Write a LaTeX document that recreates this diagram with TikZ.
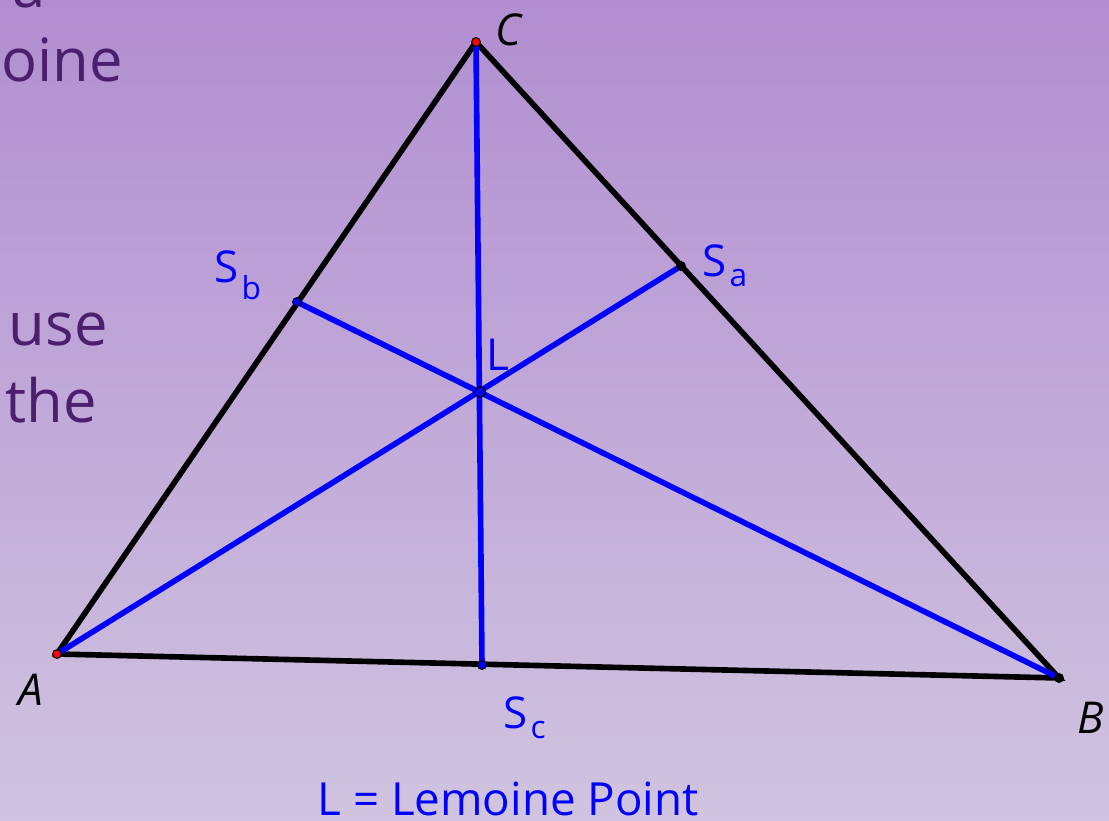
\documentclass[tikz,border=0pt]{standalone}
\usepackage{fontspec}
\setmainfont{Open Sans}
\usetikzlibrary{positioning}

\definecolor{bgtop}{RGB}{177,142,208}
\definecolor{bgbot}{RGB}{208,196,224}
\definecolor{slidetxt}{RGB}{75,30,110}

\tikzset{
    side/.style={line width=3.2pt, black, line cap=round},
    symm/.style={line width=3.2pt, blue, line cap=round},
    lbl/.style={blue, font=\fontsize{25}{25}\selectfont, inner sep=0pt},
    vlbl/.style={black, font=\fontsize{25}{25}\selectfont\itshape, inner sep=0pt},
    sub/.style={blue, font=\fontsize{18}{18}\selectfont, inner sep=0pt},
    slide/.style={slidetxt, font=\fontsize{34}{34}\selectfont, inner sep=0pt, anchor=base east},
    pt/.style={circle, inner sep=0pt, minimum size=5pt, line width=0.6pt, draw=black}
}

\begin{document}
\begin{tikzpicture}[x=0.02cm, y=-0.02cm]
            \useasboundingbox (0,0) rectangle (1109,821);
            \clip (0,0) rectangle (1109,821);
            \shade[top color=bgtop, bottom color=bgbot] (0,0) rectangle (1109,821);

            % left over text of the slide
            \node[slide] (t1) at (46,8) {a};
            \node[slide] (t2) at (123,82) {oine};
            \node[slide] (t3) at (108,345) {use};
            \node[slide] (t4) at (97,422) {the};

            \coordinate (A) at (57,654);
            \coordinate (B) at (1059,678);
            \coordinate (C) at (476,42);
            \coordinate (Sa) at (681,266);
            \coordinate (Sb) at (297,302);
            \coordinate (Sc) at (482,665);
            \coordinate (L) at (480,392);

            \draw[side] (A) -- (B) -- (C) -- cycle;
            \draw[symm] (A) -- (Sa);
            \draw[symm] (B) -- (Sb);
            \draw[symm] (C) -- (Sc);

            \node[pt, fill=red] at (A) {};
            \node[pt, fill=red] at (C) {};
            \node[pt, fill=black] at (B) {};
            \node[pt, fill=black] at (Sa) {};
            \node[pt, fill=blue] at (Sb) {};
            \node[pt, fill=blue] at (Sc) {};
            \node[pt, fill=blue, minimum size=6pt] at (L) {};

            \node[vlbl] (lA) at (31,690) {A};
            \node[vlbl] (lB) at (1091,718) {B};
            \node[vlbl] (lC) at (508,30) {C};
            \node[lbl] (lL) at (498,355) {L};

            \node[lbl] (lSb) at (227,267) {S};
            \node[sub, below right=-5pt and 1pt of lSb] {b};
            \node[lbl] (lSa) at (715,261) {S};
            \node[sub, below right=-5pt and 1pt of lSa] {a};
            \node[lbl] (lSc) at (516,713) {S};
            \node[sub, below right=-5pt and 1pt of lSc] {c};

            \node[lbl, font=\fontsize{26}{26}\selectfont, anchor=base] (note) at (508,815) {L = Lemoine Point};
        \end{tikzpicture}
\end{document}
